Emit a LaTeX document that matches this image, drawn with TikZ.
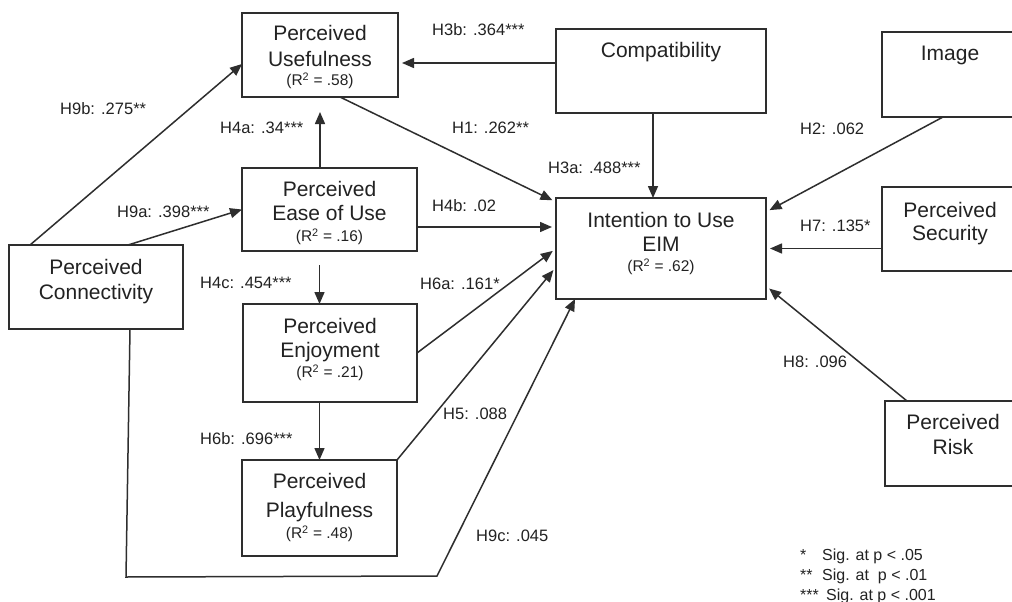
\documentclass[tikz,border=0pt]{standalone}
\usepackage{fontspec}
\setmainfont{Liberation Sans}
\usetikzlibrary{arrows.meta,calc}
\definecolor{linec}{HTML}{2e2e2e}
\definecolor{txtc}{HTML}{222222}
\begin{document}
\begin{tikzpicture}[x=1pt,y=-1pt,
  box/.style={draw=linec, line width=1.5pt, inner sep=0pt, outer sep=0pt, rectangle},
  big/.style={font=\fontsize{21}{24}\selectfont, text=txtc, anchor=base, inner sep=0pt},
  rsq/.style={font=\fontsize{15.5}{18}\selectfont, text=txtc, anchor=base, inner sep=0pt},
  lab/.style={font=\fontsize{16.5}{19}\selectfont, text=txtc, anchor=base west, inner sep=0pt},
  leg/.style={font=\fontsize{16}{18}\selectfont, text=txtc, anchor=base west, inner sep=0pt},
  arr/.style={draw=linec, line width=1.5pt, -{Triangle[length=12pt,width=10pt]}}]

\useasboundingbox (0,0) rectangle (1012,602);
\fill[white] (0,0) rectangle (1012,602);

% boxes
\node[box, minimum width=156pt, minimum height=84pt] (PU) at (320,55) {};
\node[box, minimum width=175pt, minimum height=83pt] (PEOU) at (329.5,209.5) {};
\node[box, minimum width=210pt, minimum height=84pt] (CO) at (661,71) {};
\node[box, minimum width=210pt, minimum height=101pt] (INT) at (661,248.5) {};
\node[box, minimum width=136pt, minimum height=85pt] (IM) at (950,74.5) {};
\node[box, minimum width=136pt, minimum height=84pt] (SEC) at (950,229) {};
\node[box, minimum width=137pt, minimum height=85pt] (RI) at (953.5,443.5) {};
\node[box, minimum width=174pt, minimum height=84pt] (PC) at (96,287) {};
\node[box, minimum width=174pt, minimum height=98pt] (PE) at (330,353) {};
\node[box, minimum width=155pt, minimum height=96pt] (PP) at (319.5,508) {};

% box texts
\node[big] (PUa) at (320,40.5) {Perceived};
\node[big] (PUb) at (320,66.5) {Usefulness};
\node[rsq] (PUc) at (320,85.5) {(R\textsuperscript{2} = .58)};

\node[big] (PEOUa) at (329.5,196.5) {Perceived};
\node[big] (PEOUb) at (329.5,220.5) {Ease of Use};
\node[rsq] (PEOUc) at (329.5,241.5) {(R\textsuperscript{2} = .16)};

\node[big] (COa) at (661,57.5) {Compatibility};

\node[big] (INTa) at (661,227.5) {Intention to Use};
\node[big] (INTb) at (661,251.5) {EIM};
\node[rsq] (INTc) at (661,271.5) {(R\textsuperscript{2} = .62)};

\node[big] (IMa) at (950,60.5) {Image};

\node[big] (SECa) at (950,217.5) {Perceived};
\node[big] (SECb) at (950,240.5) {Security};

\node[big] (RIa) at (953,429.5) {Perceived};
\node[big] (RIb) at (953,454.5) {Risk};

\node[big] (PCa) at (96,274.5) {Perceived};
\node[big] (PCb) at (96,299.5) {Connectivity};

\node[big] (PEa) at (330,333.5) {Perceived};
\node[big] (PEb) at (330,357.5) {Enjoyment};
\node[rsq] (PEc) at (330,377.5) {(R\textsuperscript{2} = .21)};

\node[big] (PPa) at (319.5,488.5) {Perceived};
\node[big] (PPb) at (319.5,517.5) {Playfulness};
\node[rsq] (PPc) at (319.5,538.5) {(R\textsuperscript{2} = .48)};

% helper coordinates
\coordinate (h4b) at ([yshift=21.5pt]INT.west);
\coordinate (h3b) at ([yshift=8pt]CO.west);
\coordinate (c1) at (126,577);
\coordinate (c2) at (437,576);

% connectors
\draw[arr] ([xshift=21pt]PC.north west) -- ([yshift=-9pt]PU.west);
\draw[arr] ([xshift=119pt]PC.north west) -- (PEOU.west);
\draw[arr, shorten >=15pt] (PEOU.north -| PU.south) -- (PU.south);
\draw[arr, shorten <=14pt] (PEOU.south -| PP.north) -- (PE.north -| PP.north);
\draw[arr] (PE.south -| PP.north) -- (PP.north);
\draw[arr, shorten >=4pt] ([xshift=20pt]PU.south) -- ([yshift=-4pt]INT.north west);
\draw[arr, shorten >=4pt] (PEOU.east |- h4b) -- (h4b);
\draw[arr, shorten >=4pt] (PE.east) -- (INT.west);
\draw[arr, shorten >=4pt] (PP.north east) -- ([yshift=-18.5pt]INT.west);
\draw[arr] ([xshift=34pt]PC.south) -- (c1) -- (c2) -- ([xshift=-86pt]INT.south);
\draw[arr, shorten >=4pt] (h3b) -- (PU.east |- h3b);
\draw[arr] ([xshift=-8pt]CO.south) -- ([xshift=-8pt]INT.north);
\draw[arr, shorten >=4pt] ([xshift=-7pt]IM.south) -- ([yshift=-14pt]INT.north east);
\draw[arr, shorten >=4pt] (SEC.west |- INT.east) -- (INT.east);
\draw[arr, shorten >=4pt] ([xshift=-46.5pt]RI.north) -- ([yshift=13pt]INT.south east);

% path labels
\node[lab] (L9b) at (60,114) {H9b: .275**};
\node[lab] (L9a) at (117,217) {H9a: .398***};
\node[lab] (L4a) at (220,133) {H4a: .34***};
\node[lab] (L1) at (452,133) {H1: .262**};
\node[lab] (L3b) at (432,36) {H3b: .364***};
\node[lab] (L4b) at (432,211) {H4b: .02};
\node[lab] (L3a) at (548,173) {H3a: .488***};
\node[lab] (L2) at (800,134) {H2: .062};
\node[lab] (L7) at (800,231) {H7: .135*};
\node[lab] (L8) at (783,367) {H8: .096};
\node[lab] (L4c) at (200,288) {H4c: .454***};
\node[lab] (L6a) at (420,289) {H6a: .161*};
\node[lab] (L6b) at (200,444) {H6b: .696***};
\node[lab] (L5) at (443,419) {H5: .088};
\node[lab] (L9c) at (476,541) {H9c: .045};

% legend
\node[leg] (G1) at (800,560) {\makebox[22pt][l]{*}Sig. at p < .05};
\node[leg] (G2) at (800,580) {\makebox[22pt][l]{**}Sig. at\ \ p < .01};
\node[leg] (G3) at (800,600) {\makebox[26pt][l]{***}Sig. at p < .001};
\end{tikzpicture}
\end{document}
